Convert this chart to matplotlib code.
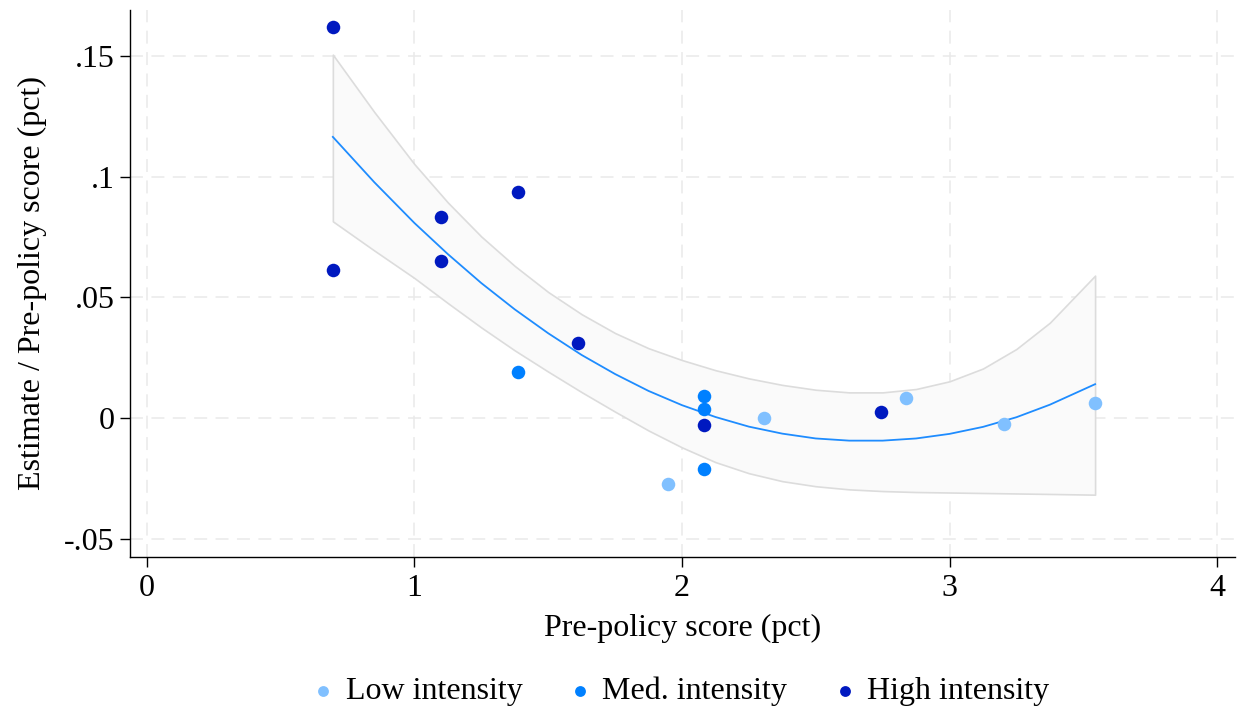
import numpy as np
import matplotlib
matplotlib.use("Agg")
import matplotlib.pyplot as plt

plt.rcParams['font.family'] = ['Liberation Serif', 'DejaVu Serif']

# scatter points
low_x = [1.948, 2.307, 2.837, 3.204, 3.544]
low_y = [-0.0273, 0.0000, 0.0081, -0.0025, 0.0064]

med_x = [1.387, 2.082, 2.082, 2.082]
med_y = [0.0192, 0.0089, 0.0037, -0.0210]

high_x = [0.695, 0.695, 1.099, 1.099, 1.387, 1.611, 2.082, 2.744]
high_y = [0.1620, 0.0615, 0.0833, 0.0652, 0.0936, 0.0309, -0.0030, 0.0023]

# quadratic fit line and its confidence band, read at these x positions
fit_x = [0.695, 0.85, 1.0, 1.125, 1.25, 1.375, 1.5, 1.625, 1.75, 1.875, 2.0, 2.125,
         2.25, 2.375, 2.5, 2.625, 2.75, 2.875, 3.0, 3.125, 3.25, 3.375, 3.544]
fit_y = [0.1165, 0.0977, 0.0808, 0.0679, 0.0559, 0.0450, 0.0351, 0.0261, 0.0182,
         0.0112, 0.0053, 0.0004, -0.0036, -0.0065, -0.0085, -0.0094, -0.0094,
         -0.0085, -0.0066, -0.0037, 0.0003, 0.0055, 0.0140]
ci_hi = [0.1506, 0.1268, 0.1052, 0.0893, 0.0752, 0.0630, 0.0522, 0.0430, 0.0352,
         0.0289, 0.0240, 0.0198, 0.0164, 0.0137, 0.0117, 0.0106, 0.0106, 0.0120,
         0.0152, 0.0205, 0.0286, 0.0395, 0.0590]
ci_lo = [0.0815, 0.0694, 0.0580, 0.0476, 0.0375, 0.0280, 0.0192, 0.0107, 0.0026,
         -0.0052, -0.0122, -0.0183, -0.0229, -0.0262, -0.0283, -0.0296, -0.0303,
         -0.0307, -0.0309, -0.0311, -0.0313, -0.0315, -0.0318]

xticks = [0, 1, 2, 3, 4]
yticks = [-0.05, 0, 0.05, 0.1, 0.15]
ytick_labels = ['-.05', '0', '.05', '.1', '.15']

fs = 23

fig = plt.figure(figsize=(12.37, 7.14), dpi=100)
ax = fig.add_axes([0.105, 0.22, 0.8934, 0.766])

ax.fill_between(fit_x, ci_lo, ci_hi, facecolor='#fafafa', edgecolor='#dcdcdc',
                linewidth=1.2, zorder=2)
ax.plot(fit_x, fit_y, color='#1e8cff', linewidth=1.3, zorder=3)

ax.scatter(low_x, low_y, s=95, color='#80c0ff', label='Low intensity', zorder=4, linewidths=0)
ax.scatter(med_x, med_y, s=95, color='#0080ff', label='Med. intensity', zorder=4, linewidths=0)
ax.scatter(high_x, high_y, s=95, color='#0019c0', label='High intensity', zorder=4, linewidths=0)

ax.set_xlim(-0.0636, 4.067)
ax.set_ylim(-0.0576, 0.1691)
ax.set_xticks(xticks)
ax.set_yticks(yticks)
ax.set_yticklabels(ytick_labels)

ax.grid(True, color='#eaeaea', linewidth=1.1, linestyle=(0, (8.5, 5.5)))
ax.set_axisbelow(True)

for s in ['top', 'right']:
    ax.spines[s].set_visible(False)
for s in ['left', 'bottom']:
    ax.spines[s].set_linewidth(1.0)

ax.tick_params(axis='both', labelsize=fs, length=7, width=1.0, direction='out')
ax.tick_params(axis='x', pad=5)
ax.tick_params(axis='y', pad=4)

ax.set_xlabel('Pre-policy score (pct)', fontsize=fs, labelpad=8)
ax.set_ylabel('Estimate / Pre-policy score (pct)', fontsize=fs, labelpad=12)

fig.legend(loc='center', bbox_to_anchor=(0.551, 0.032), ncol=3, frameon=False,
           fontsize=fs, markerscale=0.8, handlelength=0.6, handletextpad=0.4,
           columnspacing=1.5)

fig.savefig('out.png', dpi=100)
